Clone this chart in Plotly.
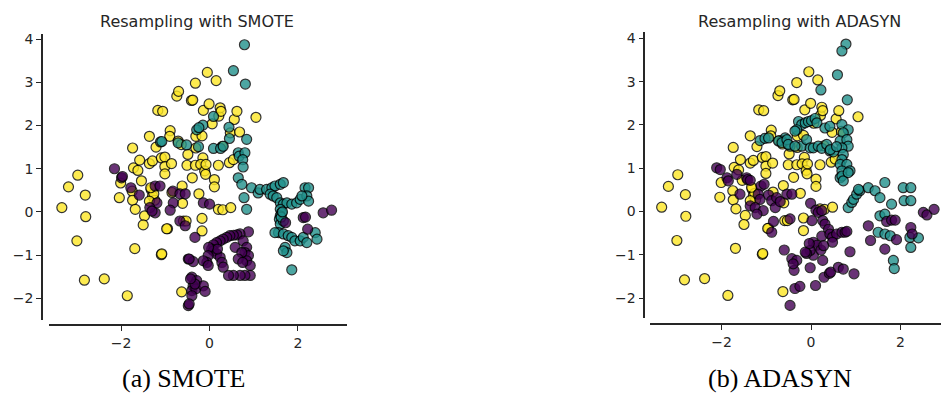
import plotly.graph_objects as go

# ---- class 2 (majority, unchanged by resampling) ----
c2_x = [-3.34, -3.19, -2.98, -2.81, -2.80, -3.00, -2.83, -2.38, -1.86, -1.69, -1.09, -1.08,
        -2.04, -2.01, -1.74, -1.72, -1.62, -1.58, -1.75, -1.74, -1.68, -1.54, -1.47, -1.50,
        -1.36, -1.36, -1.29, -1.21, -1.17, -1.06, -1.09, -1.01, -1.01, -1.01, -0.86, -1.32,
        -1.29, -1.24, -1.26, -0.95, -0.97, -0.89, -0.90, -0.74, -0.70, -0.71, -0.85, -0.62,
        -0.61, -0.59, -0.53, -0.63, -0.49, -0.51, -0.41, -0.38, -0.32, -0.39, -0.32, -0.31,
        -0.31, -0.24, -0.17, -0.17, -0.15, -0.20, -0.14, -0.17, -0.11, -0.09, -0.08, -0.05,
        -0.01, 0.06, 0.11, 0.11, 0.15, 0.20, 0.30, 0.48, 0.20, 0.21, 0.24, 0.26, 0.29, 0.45,
        0.47, 0.56, 0.62, 0.68, 1.05, 0.54, -0.64, -1.33, -1.36]
c2_y = [0.10, 0.58, 0.85, 0.39, -0.11, -0.67, -1.58, -1.55, -1.94, -0.85, -0.99, -0.97,
        0.33, 0.67, 1.48, 1.02, 0.96, 1.20, 0.48, 0.27, 0.06, 0.72, -0.09, -0.30,
        1.75, 1.12, 1.18, 1.50, 2.35, 2.33, 1.25, 1.27, 1.05, 0.88, 1.12, 0.52,
        0.37, 0.27, 0.42, -0.39, -0.39, 1.88, 1.75, 2.68, 2.79, 1.64, 0.45, 0.60,
        0.20, -0.21, -0.21, -1.85, 1.33, 1.08, 2.58, 2.59, 2.98, 0.79, 1.08, 1.48,
        1.75, 0.42, -0.15, -0.44, 1.25, 1.10, 2.35, 1.76, 0.95, 0.87, 1.10, 3.23,
        2.50, 2.04, 0.75, 0.58, 3.04, 0.06, 0.05, 0.10, 1.08, 2.22, 2.41, 2.33, 1.52, 1.14,
        1.83, 2.14, 2.33, 1.85, 2.19, 1.21, 1.56, 0.56, 0.25]

# ---- SMOTE: class 1 ----
smote_c1_x = [0.79, 0.54, 0.81, 0.09, -0.15, -0.29, -0.24, 0.44, 0.45, 0.84, -1.11, -1.08,
              -0.71, -0.52, -0.25, 0.09, 0.25, 0.31, 0.65, 0.67, 0.80, 0.75, 0.76, 0.65,
              0.73, 0.78, 0.84, 0.95, 1.10, 1.14, 1.29, 1.41, 1.48, 1.60, 1.67, 1.37,
              1.44, 1.52, 1.60, 1.67, 1.75, 1.86, 1.97, 2.05, 2.16, 2.24, 2.20, 2.24,
              2.09, 1.60, 1.63, 1.60, 1.58, 1.60, 1.56, 1.48, 1.67, 1.78, 1.86, 1.93,
              2.05, 2.12, 2.20, 2.39, 2.43, 1.71, 1.75, 1.67, 1.86, 1.67, 1.62, 1.65]
smote_c1_y = [3.87, 3.27, 2.96, 2.21, 2.01, 1.90, 1.95, 1.96, 1.70, 1.68, 1.62, 1.63,
              1.60, 1.55, 1.51, 1.47, 1.47, 1.52, 1.37, 1.29, 1.37, 1.21, 1.04, 0.79,
              0.64, 0.33, 0.06, 0.56, 0.44, 0.52, 0.52, 0.56, 0.60, 0.64, 0.68, 0.41,
              0.37, 0.33, 0.21, 0.18, 0.21, 0.18, 0.21, 0.29, 0.56, 0.56, 0.37, 0.25,
              0.37, 0.06, -0.02, -0.09, -0.17, -0.28, -0.48, -0.48, -0.51, -0.55, -0.59, -0.67,
              -0.67, -0.59, -0.71, -0.48, -0.63, -0.82, -0.94, -0.90, -1.34, -0.21, -0.12, 0.00]

# ---- SMOTE: class 0 ----
smote_c0_x = [-2.15, -1.99, -1.97, -1.78, -1.59, -1.23, -1.12, -1.19, -1.23, -1.35, -1.30,
              -0.83, -0.67, -0.55, -0.82, -0.89, -0.67, -0.55, -0.33, -0.14, 0.00,
              0.88, 0.69, 0.62, 0.54, 0.46, 0.39, 0.31, 0.24, 0.16, 0.09, 0.05,
              0.76, 0.84, 0.80, 0.88, 0.84, 0.92, 0.92, 0.80, 0.69, 0.54, 0.43,
              0.58, 0.73, 0.65, 0.75, 0.09, 0.16, 0.24, 0.28, 0.31, 0.18, -0.02,
              -0.03, -0.06, -0.14, -0.03, -0.48, -0.37, -0.40, -0.29, -0.37, -0.40,
              -0.31, -0.14, -0.10, -0.40, -0.48, -0.46, -0.33, -0.46, -0.43,
              1.72, 2.12, 2.17, 2.22, 2.57, 2.76]
smote_c0_y = [1.00, 0.79, 0.82, 0.56, 0.39, 0.60, 0.60, 0.21, -0.02, 0.10, 0.02,
              0.48, 0.42, 0.42, 0.21, 0.04, -0.21, -0.32, -0.59, 0.21, 0.18,
              -0.46, -0.51, -0.53, -0.54, -0.55, -0.59, -0.63, -0.67, -0.71, -0.76, -0.86,
              -0.67, -0.82, -0.94, -1.01, -1.13, -1.24, -1.47, -1.47, -1.47, -1.47, -1.47,
              -0.82, -0.94, -1.09, -1.17, -0.90, -0.97, -1.05, -1.17, -1.28, -0.86, -0.82,
              -1.01, -1.17, -1.13, -1.24, -1.09, -1.15, -1.51, -1.59, -1.71, -1.82,
              -1.78, -1.71, -1.84, -1.94, -2.17, -2.13, -1.67, -1.09, -1.55,
              -0.25, -0.13, -0.12, -0.40, -0.02, 0.04]

# ---- ADASYN: class 1 ----
adasyn_c1_x = [0.78, 0.69, 0.59, 0.22, 0.81,
               -0.28, -0.21, -0.13, -0.06, 0.01, 0.09, 0.13, -0.32, -0.36, -0.58, -0.65,
               -0.47, -0.21, -0.10, -0.02, 0.05, 0.16, 0.24, 0.35, 0.42, 0.50, 0.31, 0.42,
               0.69, 0.83, 0.72, 0.65, 0.80, 0.83, 0.69, 0.72, 0.69, 0.65, 0.80, 0.87,
               0.69, 0.65, -1.14, -1.03, -0.95, -0.73, -0.65, -0.54, -0.51, -0.36,
               0.69, 0.72, 0.83, 0.43, 0.57,
               0.83, 0.91, 0.95, 1.02, 1.09, 1.06, 1.28, 1.43, 1.54, 1.65, 1.80, 1.54,
               1.65, 1.50, 1.65, 1.77, 1.84, 1.86, 2.06, 2.23, 2.08, 2.23, 2.21, 2.40, 2.23]
adasyn_c1_y = [3.87, 3.71, 3.16, 2.81, 2.58,
               2.08, 2.01, 2.05, 2.08, 2.10, 2.15, 2.05, 1.89, 1.86, 1.70, 1.63,
               1.51, 1.51, 1.66, 1.47, 1.47, 1.51, 1.46, 1.55, 1.40, 1.38, 1.93, 1.97,
               2.01, 1.89, 1.82, 1.63, 1.66, 1.51, 1.47, 1.32, 1.20, 1.09, 1.09, 0.94,
               0.94, 0.78, 1.64, 1.69, 1.70, 1.63, 1.59, 1.66, 1.55, 1.51,
               0.82, 0.71, 0.90, 1.43, 1.50,
               0.09, 0.21, 0.28, 0.40, 0.48, 0.51, 0.55, 0.48, 0.32, 0.67, 0.17, -0.10,
               -0.06, -0.48, -0.52, -0.56, -1.13, -1.32, 0.55, 0.55, 0.25, 0.25, -0.60, -0.61, -0.83]

# ---- ADASYN: class 0 ----
adasyn_c0_x = [-2.11, -2.03, -1.66, -1.88, -1.44, -1.85, -1.59, -1.42, -1.36, -1.12, -1.05,
               -1.18, -1.14, -1.36, -1.25, -1.07, -1.21, -0.95, -0.88, -0.77, -0.80, -0.69,
               -0.54, -0.43, -0.84, -0.88, -0.47, -0.60, -0.43, -0.38, -0.36, -0.47, -0.32,
               -0.25, -0.40,
               -0.01, 0.11, 0.16, 0.24, 0.26, 0.31, 0.39, 0.24, 0.42, 0.48, 0.57, 0.69,
               0.76, 0.80, 0.48, 0.05, 0.13, 0.05, -0.02, -0.10, -0.13, 0.22, 0.02,
               -0.02, 0.10, 0.26, 0.29, 0.41, 0.44, 0.61, 0.72, 0.96, 0.87, 0.28, -0.04,
               1.28, 1.33, 1.65, 1.69, 1.80, 1.88, 1.91, 2.23, 2.26, 2.51, 2.59, 2.75]
adasyn_c0_y = [1.01, 0.97, 0.86, 0.78, 0.78, 0.71, 0.40, 0.74, 0.72, 0.59, 0.63,
               0.40, 0.28, 0.13, 0.09, 0.02, -0.06, 0.38, 0.25, 0.32, 0.09, 0.23,
               0.40, 0.40, -0.23, -0.48, -0.17, -0.89, -1.09, -1.36, -1.78, -2.17, -1.13,
               -1.73, -1.21,
               0.19, 0.03, -0.02, 0.02, -0.21, -0.29, -0.41, -0.57, -0.52, -0.59, -0.52, -0.48,
               -0.48, -0.46, -0.71, -0.71, -0.78, -1.01, -0.90, -0.97, -0.94, -0.89, -0.21,
               -1.30, -1.71, -1.13, -1.52, -1.43, -1.40, -1.29, -1.33, -1.44, -0.93, -0.79, -0.74,
               -0.33, -0.67, -0.87, -0.23, -0.20, -0.20, -0.65, -0.37, -0.52, -0.02, -0.08, 0.05]

x_ticks = [-2, 0, 2]
y_ticks = [-2, -1, 0, 1, 2, 3, 4]
titles = ["Resampling with SMOTE", "Resampling with ADASYN"]
captions = ["(a) SMOTE", "(b) ADASYN"]

colors = {0: "#440154", 1: "#21918c", 2: "#fde725"}
ink = "#262626"

fig = go.Figure()


def add_points(xs, ys, cls, xa, ya):
    fig.add_trace(go.Scatter(
        x=xs, y=ys, mode="markers", xaxis=xa, yaxis=ya, showlegend=False,
        marker=dict(size=10, color=colors[cls], opacity=0.8,
                    line=dict(color="black", width=1.2)),
    ))


panels = [
    ("x", "y", smote_c0_x, smote_c0_y, smote_c1_x, smote_c1_y),
    ("x2", "y2", adasyn_c0_x, adasyn_c0_y, adasyn_c1_x, adasyn_c1_y),
]
for xa, ya, c0x, c0y, c1x, c1y in panels:
    add_points(c2_x, c2_y, 2, xa, ya)
    add_points(c1x, c1y, 1, xa, ya)
    add_points(c0x, c0y, 0, xa, ya)

axis_common = dict(
    showgrid=False, zeroline=False, showline=True, linecolor=ink, linewidth=1.6,
    ticks="outside", ticklen=5, tickwidth=1.4, tickcolor=ink,
    tickfont=dict(family="DejaVu Sans", size=14, color=ink),
    anchor="free",
)

fig.update_layout(
    width=941, height=396,
    margin=dict(l=0, r=0, t=0, b=0),
    paper_bgcolor="white", plot_bgcolor="white",
    xaxis=dict(domain=[0.0521, 0.3688], range=[-3.63, 3.11], tickvals=x_ticks,
               position=0.179, **axis_common),
    yaxis=dict(domain=[0.192, 0.92], range=[-2.51, 4.13], tickvals=y_ticks,
               position=0.0446, **axis_common),
    xaxis2=dict(domain=[0.6908, 1.0], range=[-3.6, 2.905], tickvals=x_ticks,
                position=0.1818, **axis_common),
    yaxis2=dict(domain=[0.197, 0.924], range=[-2.47, 4.15], tickvals=y_ticks,
                position=0.6847, **axis_common),
)

title_x = [197 / 941, 799 / 941]
caption_x = [183 / 941, 780 / 941]
for i in range(2):
    fig.add_annotation(text=titles[i], xref="paper", yref="paper",
                       x=title_x[i], y=1 - 20 / 396, showarrow=False,
                       xanchor="center", yanchor="middle",
                       font=dict(family="DejaVu Sans", size=16, color=ink))
    fig.add_annotation(text=captions[i], xref="paper", yref="paper",
                       x=caption_x[i], y=1 - 378 / 396, showarrow=False,
                       xanchor="center", yanchor="middle",
                       font=dict(family="Liberation Serif", size=26, color="black"))

fig.write_html("out.html")
